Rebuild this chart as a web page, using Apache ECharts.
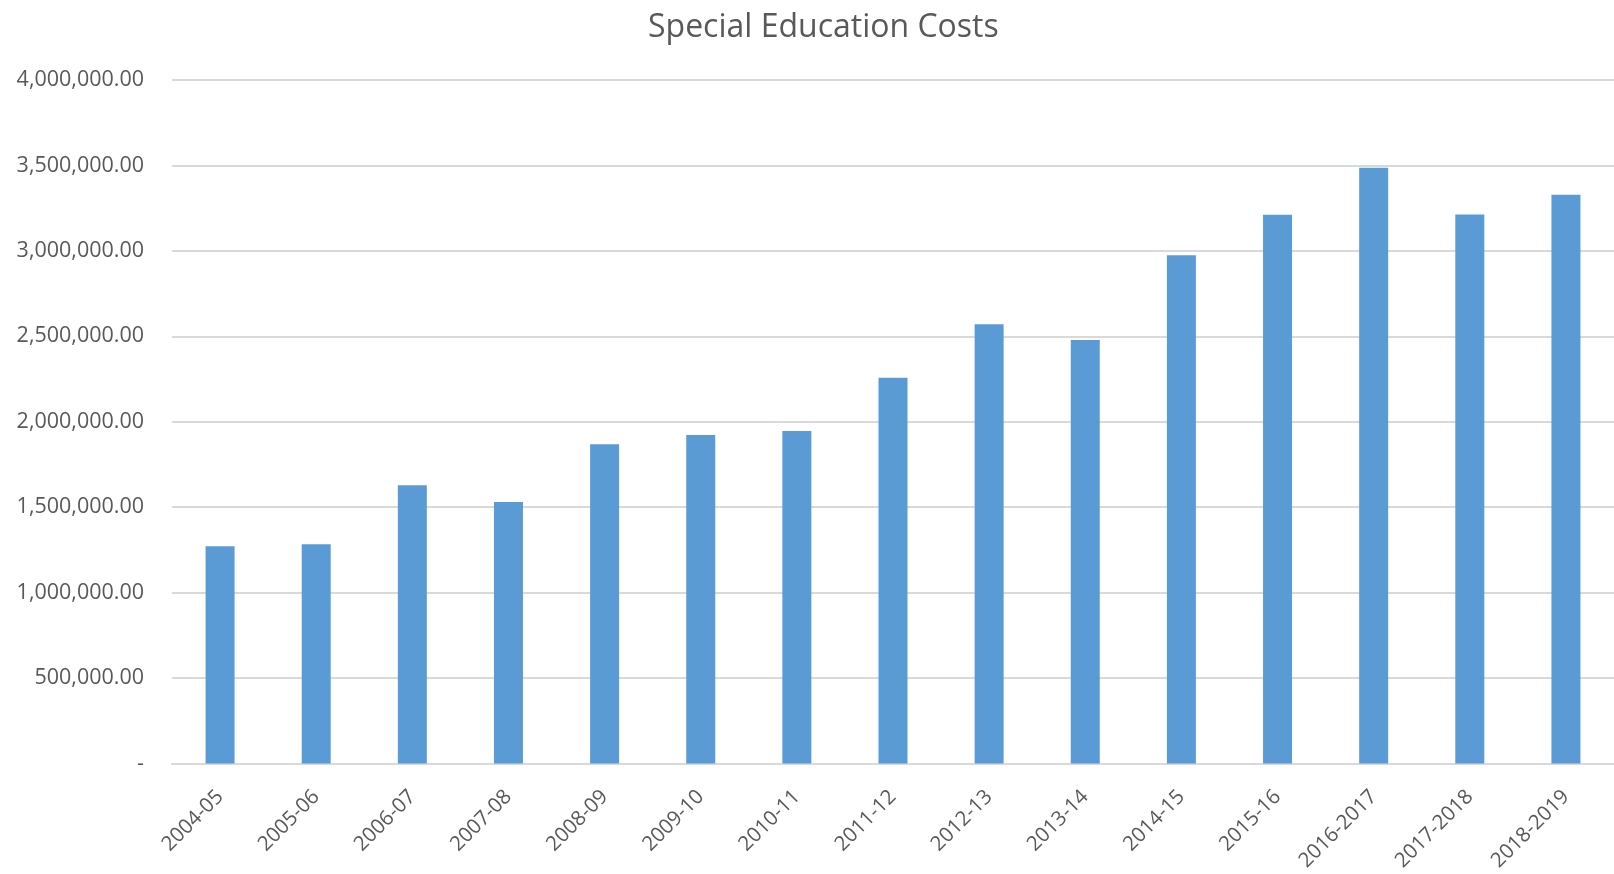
<!DOCTYPE html>
<html>
<head>
<meta charset="utf-8">
<title>Special Education Costs</title>
<script src="https://cdn.jsdelivr.net/npm/echarts@6/dist/echarts.min.js"></script>
<style>
  html, body { margin: 0; padding: 0; background: #ffffff; }
  #chart { width: 1614px; height: 874px; }
</style>
</head>
<body>
<div id="chart"></div>
<script>
// School years shown along the horizontal axis
const years = [
  '2004-05', '2005-06', '2006-07', '2007-08', '2008-09', '2009-10', '2010-11',
  '2011-12', '2012-13', '2013-14', '2014-15', '2015-16', '2016-2017',
  '2017-2018', '2018-2019'
];

// Special education spending per school year (dollars)
const costs = [
  1271000, 1283000, 1628000, 1531000, 1869000, 1923000, 1946000,
  2258000, 2570000, 2479000, 2975000, 3212000, 3487000,
  3213000, 3328000
];

// Value axis range and step
const yMin = 0;
const yMax = 4000000;
const yStep = 500000;

const textColor = '#595959';
const lineColor = '#D9D9D9';
const barColor = '#5B9BD5';
const fontFamily = '"Open Sans", "DejaVu Sans", sans-serif';

function formatMoney(v) {
  if (v === 0) return '-';
  return v.toLocaleString('en-US', { minimumFractionDigits: 2, maximumFractionDigits: 2 });
}

const chart = echarts.init(document.getElementById('chart'));
chart.setOption({
  backgroundColor: '#ffffff',
  animation: false,
  title: {
    text: 'Special Education Costs',
    left: 643,
    top: 7,
    textStyle: {
      color: textColor,
      fontFamily: fontFamily,
      fontSize: 32,
      fontWeight: 'normal'
    }
  },
  grid: {
    left: 172,
    top: 80,
    width: 1448,
    height: 687
  },
  xAxis: {
    type: 'category',
    data: years,
    axisLine: { show: true, lineStyle: { color: lineColor, width: 2 } },
    axisTick: { show: false },
    axisLabel: {
      rotate: 45,
      interval: 0,
      margin: 30,
      color: textColor,
      fontFamily: fontFamily,
      fontSize: 20.5
    }
  },
  yAxis: {
    type: 'value',
    min: yMin,
    max: yMax,
    interval: yStep,
    axisLine: { show: false },
    axisTick: { show: false },
    splitLine: { lineStyle: { color: lineColor, width: 2 } },
    axisLabel: {
      margin: 28,
      color: textColor,
      fontFamily: fontFamily,
      fontSize: 21.5,
      formatter: formatMoney
    }
  },
  series: [{
    type: 'bar',
    data: costs,
    barWidth: 29,
    itemStyle: { color: barColor }
  }]
});
</script>
</body>
</html>
